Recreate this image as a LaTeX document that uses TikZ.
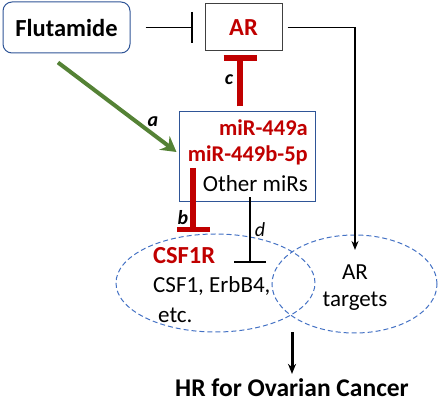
\documentclass[tikz,border=0pt]{standalone}
\usepackage{fontspec}
\setmainfont{Carlito}
\usetikzlibrary{arrows.meta,shapes.geometric}

\definecolor{mirred}{RGB}{192,0,0}
\definecolor{boxblue}{RGB}{47,85,151}
\definecolor{vennblue}{RGB}{68,114,196}
\definecolor{flutgreen}{RGB}{84,130,53}

\newcommand{\bigbold}{\fontsize{24.5}{28}\selectfont\bfseries}
\newcommand{\mirbold}{\fontsize{22.5}{26}\selectfont\bfseries}
\newcommand{\bigtext}{\fontsize{23}{28}\selectfont}

\tikzset{
    outline/.style={draw=boxblue, line width=1pt},
    venn/.style={ellipse, draw=vennblue, line width=1pt, dash pattern=on 5pt off 3pt, inner sep=0pt},
    word/.style={font=\bigtext, inner sep=0pt},
    redword/.style={font=\bigbold, text=mirred, inner sep=0pt},
    lbl/.style={font=\fontsize{20}{22}\selectfont\bfseries\itshape, inner sep=0pt},
    redT/.style={draw=mirred, line width=5.5pt, -{Bar[width=33pt]}},
}

\begin{document}
\begin{tikzpicture}[x=1pt, y=-1pt, >=Stealth]
    \useasboundingbox (0,0) rectangle (440,401);

    % Flutamide and AR
    \node[outline, rounded corners=9pt, minimum width=127pt, minimum height=51pt, font=\bigbold] (flut) at (66.5,27.5) {Flutamide};
    \node[draw=black!75, line width=1pt, minimum width=77pt, minimum height=47pt, font=\bigbold, text=mirred] (ar) at (243.5,27.5) {AR};
    \draw[line width=1.5pt, -{Bar[width=31pt]}] ([xshift=15pt]flut.east) -- ([xshift=-12pt]ar.west);

    % miRNA box
    \node[outline, minimum width=136pt, minimum height=90pt] (mir) at (247,157) {};
    \node[redword, font=\mirbold, anchor=base east] (m449a) at (308,136) {miR-449a};
    \node[redword, font=\mirbold, anchor=base east] (m449b) at (308,162) {miR-449b-5p};
    \node[word, anchor=base east] (others) at (308,192) {Other miRs};

    % target sets
    \node[venn, minimum width=199pt, minimum height=98pt] (vl) at (215.5,283) {};
    \node[venn, minimum width=165pt, minimum height=98pt] (vr) at (354.5,284) {};
    \node[redword, anchor=base west] (csf) at (153,264) {CSF1R};
    \node[word, anchor=base west] (erbb) at (153,293) {CSF1, ErbB4,};
    \node[word, anchor=base west] (etc) at (158,323) {etc.};
    \node[word, anchor=base] (tgtar) at (355,280) {AR};
    \node[word, anchor=base] (tgt) at (355,307) {targets};
    \node[font=\fontsize{25.5}{28}\selectfont\bfseries, inner sep=0pt, anchor=base] (hr) at (292,396) {HR for Ovarian Cancer};

    % connectors
    \coordinate (artip) at (355,250);
    \coordinate (btip) at ([shift={(-22.5,-1)}]vl.north);
    \draw[line width=1.5pt, -{Stealth[length=9pt,width=7pt]}] ([xshift=5pt]ar.east) -| (artip);
    \draw[flutgreen, line width=4pt, -{Stealth[length=15pt,width=17pt,inset=5pt]}] ([shift={(-8.5,9)}]flut.south) -- ([shift={(-2,-5)}]mir.west);
    \draw[redT] ([shift={(-7,-5)}]mir.north) -- ([shift={(-3.5,4)}]ar.south);
    \draw[redT] ([yshift=-6pt]m449b.base -| btip) -- (btip);
    \draw[line width=2pt, -{Bar[width=32pt]}] ([shift={(3,-5)}]mir.south) -- ([shift={(34.5,-20)}]vl.center);
    \draw[line width=3pt, -{Stealth[length=10pt,width=8pt]}] (vl.south -| hr.north) -- ([yshift=4pt]hr.north);

    % labels
    \node[lbl] (la) at (153,122) {a};
    \node[lbl] (lb) at (183,218) {b};
    \node[lbl] (lc) at (229,80) {c};
    \node[font=\fontsize{20}{22}\selectfont\itshape, inner sep=0pt] (ld) at (260,230) {d};
\end{tikzpicture}
\end{document}
